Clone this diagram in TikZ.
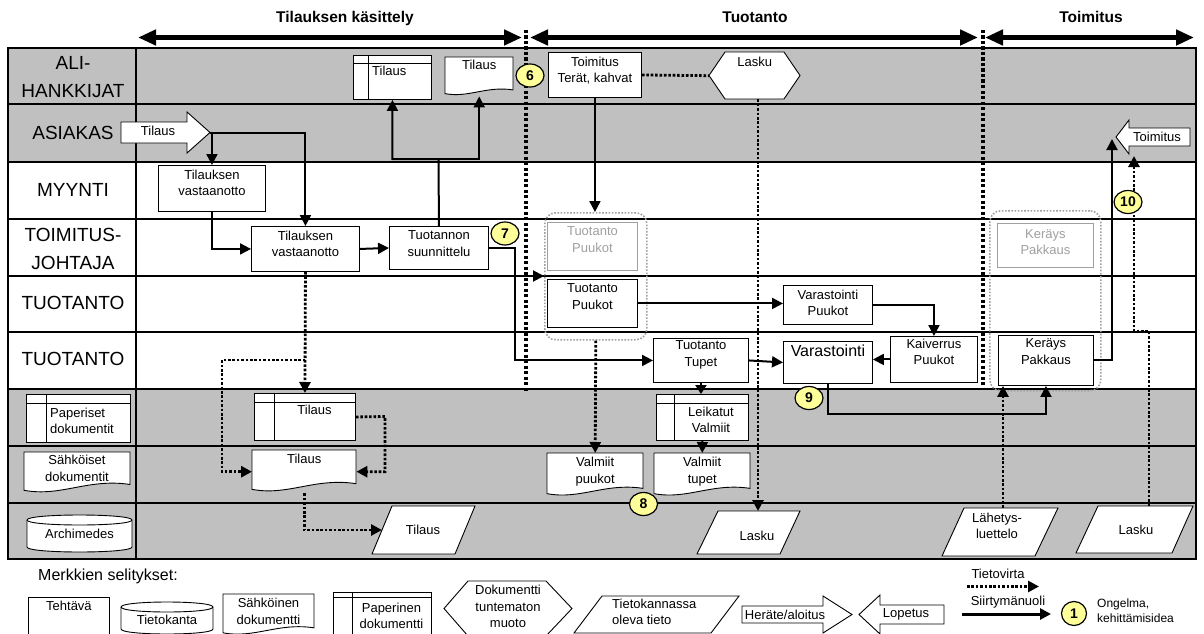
\documentclass[tikz,border=0pt]{standalone}
\usepackage{fontspec}
\setmainfont{Liberation Sans}
\usetikzlibrary{arrows.meta,calc,shapes.geometric}

\definecolor{lanegrey}{HTML}{C0C0C0}
\definecolor{ghostgrey}{HTML}{A0A0A0}
\definecolor{noteyellow}{HTML}{FFFF99}

\tikzset{
  txt/.style={font=\fontsize{13}{16.5}\selectfont, align=center, inner sep=0},
  txtl/.style={font=\fontsize{13}{16.5}\selectfont, align=left, inner sep=0},
  lanelabel/.style={font=\fontsize{19}{28}\selectfont, align=center, inner sep=0},
  phasetitle/.style={font=\bfseries\fontsize{15.5}{18}\selectfont, inner sep=0, anchor=base},
  taskbox/.style={draw, fill=white, line width=0.9pt, inner sep=0, anchor=north west},
  ghostbox/.style={draw=ghostgrey, fill=white, line width=0.9pt, inner sep=0, anchor=north west},
  frame/.style={inner sep=0, anchor=north west},
  shapeline/.style={draw, fill=white, line width=0.9pt, line join=miter},
  flow/.style={line width=2pt, -{Triangle[length=11pt,width=11pt]}},
  shortflow/.style={line width=2pt, -{Triangle[length=9pt,width=11pt]}},
  plainflow/.style={line width=2pt},
  info/.style={line width=2.8pt, dash pattern=on 2.6pt off 1.8pt, -{Triangle[length=11pt,width=11pt]}},
  plaininfo/.style={line width=2.8pt, dash pattern=on 2.6pt off 1.8pt},
  divider/.style={line width=4pt, dash pattern=on 3.3pt off 2.2pt},
  group/.style={draw=ghostgrey, line width=1.6pt, dash pattern=on 1.6pt off 1.6pt, rounded corners=11pt, inner sep=0, anchor=north west},
  phasearrow/.style={line width=4.5pt, {Triangle[length=18pt,width=15pt]}-{Triangle[length=18pt,width=15pt]}},
  note/.style={ellipse, draw, fill=noteyellow, line width=1.2pt, minimum width=28pt, minimum height=23pt, inner sep=0, font=\bfseries\fontsize{14}{14}\selectfont},
  laneline/.style={line width=1.8pt},
}

% task box: [text offset], name, x0, y0, x1, y1, text
\newcommand\mkTask[7][4.5]{%
  \node[taskbox, minimum width={#5-#3}, minimum height={#6-#4}] (#2) at (#3,#4) {};
  \node[txt, anchor=north] at ($(#2.north)+(0,#1)$) {#7};}
\newcommand\mkGhost[7][4.5]{%
  \node[ghostbox, minimum width={#5-#3}, minimum height={#6-#4}] (#2) at (#3,#4) {};
  \node[txt, anchor=north, text=ghostgrey] at ($(#2.north)+(0,#1)$) {#7};}
% paper document: name, x0, y0, x1, y1, header offset, margin offset
\newcommand\mkPaper[7]{%
  \node[taskbox, minimum width={#4-#2}, minimum height={#5-#3}] (#1) at (#2,#3) {};
  \draw[line width=0.9pt] (#2,{#3+#6}) -- (#4,{#3+#6}) ({#2+#7},#3) -- ({#2+#7},#5);}
% electronic document with wavy lower edge: name, x0, y0, x1, y1
\newcommand\mkEdoc[5]{%
  \pgfmathsetmacro\edw{#4-#2}%
  \draw[shapeline] (#2,#3) -- (#4,#3) -- (#4,{#5-0.09*\edw})
    .. controls ({#2+0.6*\edw},{#5-0.15*\edw}) and ({#2+0.35*\edw},{#5+0.03*\edw}) .. (#2,{#5-0.035*\edw}) -- cycle;
  \node[frame, minimum width=\edw, minimum height={#5-#3}] (#1) at (#2,#3) {};}
% database cylinder: name, x0, y0, x1, y1
\newcommand\mkCyl[5]{%
  \def\cry{5}%
  \draw[shapeline] (#2,{#3+\cry}) -- (#2,{#5-\cry})
    .. controls (#2,{#5+0.333*\cry}) and (#4,{#5+0.333*\cry}) .. (#4,{#5-\cry})
    -- (#4,{#3+\cry}) .. controls (#4,{#3-0.333*\cry}) and (#2,{#3-0.333*\cry}) .. (#2,{#3+\cry}) -- cycle;
  \draw[line width=0.9pt] (#2,{#3+\cry}) .. controls (#2,{#3+2.333*\cry}) and (#4,{#3+2.333*\cry}) .. (#4,{#3+\cry});
  \node[frame, minimum width={#4-#2}, minimum height={#5-#3}] (#1) at (#2,#3) {};}
% data parallelogram: name, top y, bottom y, top left x, top right x, bottom left x, bottom right x
\newcommand\mkData[7]{%
  \draw[shapeline] (#4,#2) -- (#5,#2) -- (#7,#3) -- (#6,#3) -- cycle;
  \node[frame, anchor=center, minimum width={#5-#6}, minimum height={#3-#2}] (#1) at ({(#4+#5+#6+#7)/4},{(#2+#3)/2}) {};}
% hexagon: name, left x, top-left x, top-right x, right x, top y, bottom y
\newcommand\mkHex[7]{%
  \draw[shapeline] (#2,{(#6+#7)/2}) -- (#3,#6) -- (#4,#6) -- (#5,{(#6+#7)/2}) -- (#4,#7) -- (#3,#7) -- cycle;
  \node[frame, minimum width={#5-#2}, minimum height={#7-#6}] (#1) at (#2,#6) {};}

\begin{document}
\begin{tikzpicture}[x=1pt,y=-1pt]
\useasboundingbox (0,0) rectangle (1204,634);

% ---------- swimlane grid ----------
\fill[lanegrey] (8,48) rectangle (1196,162);
\fill[lanegrey] (8,389) rectangle (1196,559);
\foreach \yy in {104,162,219,276,332,389,446,503}
  \draw[laneline] (8,\yy) -- (1196,\yy);
\draw[laneline] (136,48) -- (136,559);
\draw[line width=2.4pt] (8,48) rectangle (1196,559);

% ---------- lane titles ----------
\node[lanelabel] (lnAli) at (73,77.5) {ALI-\\HANKKIJAT};
\node[lanelabel] (lnAsi) at (73,133) {ASIAKAS};
\node[lanelabel] (lnMyy) at (73,190) {MYYNTI};
\node[lanelabel] (lnToi) at (73,249) {TOIMITUS-\\JOHTAJA};
\node[lanelabel] (lnTuo1) at (73,303) {TUOTANTO};
\node[lanelabel] (lnTuo2) at (73,359) {TUOTANTO};

\mkPaper{lnPaper}{26}{394}{130}{442}{9}{20}
\node[txtl, anchor=north west] at (50,407.5) {Paperiset\\dokumentit};
\mkEdoc{lnSahko}{24}{452}{130}{494}
\node[txt, anchor=north] at (77,455) {Sähköiset\\dokumentit};
\mkCyl{lnArch}{27}{515}{132}{552}
\node[txt] at (79.5,534) {Archimedes};

% ---------- phases ----------
\node[phasetitle] (phA) at (345,23) {Tilauksen käsittely};
\node[phasetitle] (phB) at (755,23) {Tuotanto};
\node[phasetitle] (phC) at (1091,23) {Toimitus};
\coordinate (phA-l) at (138,37.5);
\coordinate (phA-r) at (522,37.5);
\coordinate (phB-l) at (530,37.5);
\coordinate (phB-r) at (978,37.5);
\coordinate (phC-l) at (985,37.5);
\coordinate (phC-r) at (1194,37.5);
\draw[phasearrow] (phA-l) -- (phA-r);
\draw[phasearrow] (phB-l) -- (phB-r);
\draw[phasearrow] (phC-l) -- (phC-r);

% ---------- dotted activity groups ----------
\node[group, minimum width=102, minimum height=127] (grp1) at (544,212) {};
\node[group, minimum width=111, minimum height=180] (grp2) at (989,210) {};

% ---------- ALI-HANKKIJAT ----------
\mkPaper{p1}{353}{55}{431}{99}{8}{15}
\node[txt, anchor=west] at (372,71) {Tilaus};
\mkEdoc{e1}{445}{57}{513}{96}
\node[txt, anchor=north] at ($(e1.north)+(0,2.5)$) {Tilaus};
\mkTask{toimT}{548}{52}{641}{97}{Toimitus\\Terät, kahvat}
\mkHex{laskuH}{709}{725}{784}{800}{52}{99}
\node[txt, anchor=north] at ($(laskuH.north)+(0,5)$) {Lasku};

% ---------- ASIAKAS ----------
\draw[shapeline] (121,122) -- (187,122) -- (187,112) -- (210,132.5) -- (187,153) -- (187,143) -- (121,143) -- cycle;
\node[txt] (startT) at (158,131) {Tilaus};
\coordinate (startT-tip) at (210,132.5);
\draw[shapeline] (1116,137) -- (1129,120) -- (1129,128) -- (1190,128) -- (1190,146) -- (1129,146) -- (1129,154) -- cycle;
\node[txt] (toimE) at (1157,137) {Toimitus};
\coordinate (toimE-a) at (1112,139);
\coordinate (toimE-s) at (1134,156);

% ---------- MYYNTI / TOIMITUSJOHTAJA ----------
\mkTask{tv1}{158}{165}{265}{211}{Tilauksen\\vastaanotto}
\mkTask{tv2}{251}{226}{359}{271}{Tilauksen\\vastaanotto}
\mkTask{tsu}{389}{226}{488}{269}{Tuotannon\\suunnittelu}
\mkGhost{gpuuk}{547}{222}{637}{270}{Tuotanto\\Puukot}
\mkGhost[6]{gker}{997}{223}{1093}{267}{Keräys\\Pakkaus}

% ---------- TUOTANTO ----------
\mkTask{puuk}{547}{279}{637}{327}{Tuotanto\\Puukot}
\mkTask{vpuuk}{783}{285}{872}{324}{Varastointi\\Puukot}
\mkTask[2.5]{tupet}{653}{338}{748}{382}{Tuotanto\\Tupet}
\node[taskbox, minimum width=89, minimum height=42] (var) at (783,341) {};
\node[inner sep=0, anchor=north, font=\fontsize{16}{19}\selectfont] at ($(var.north)+(0,4)$) {Varastointi};
\mkTask[2.5]{kaiv}{890}{336}{977}{382}{Kaiverrus\\Puukot}
\mkTask[3.5]{ker}{998}{335}{1093}{385}{Keräys\\Pakkaus}

% ---------- documents ----------
\mkPaper{ptil7}{254}{393}{355}{440}{9}{20}
\node[txt] at (314.5,410) {Tilaus};
\mkPaper{lval}{656}{394}{748}{440}{9}{18}
\node[txt] at (711,420) {Leikatut\\Valmiit};
\mkEdoc{e8}{252}{450}{356}{493}
\node[txt, anchor=north] at ($(e8.north)+(0,3.5)$) {Tilaus};
\mkEdoc{vpuu}{547}{453}{643}{497}
\node[txt, anchor=north] at ($(vpuu.north)+(0,4)$) {Valmiit\\puukot};
\mkEdoc{vtup}{654}{453}{750}{497}
\node[txt, anchor=north] at ($(vtup.north)+(0,4)$) {Valmiit\\tupet};

% ---------- Archimedes records ----------
\mkData{tilA}{506}{554}{392}{475}{372}{455}
\node[txt] at (423,530) {Tilaus};
\coordinate (tilA-w) at (382,530);
\mkData{laskuA}{511}{554}{718}{800}{697}{780}
\node[txt] at (757,536) {Lasku};
\coordinate (laskuA-n) at (758,511);
\mkData{lahA}{508}{556}{964}{1058}{942}{1035}
\node[txt] at (997,526) {Lähetys-\\luettelo};
\coordinate (lahA-n) at (1003,508);
\mkData{laskuB}{506}{553}{1098}{1193}{1076}{1172}
\node[txt] at (1136,530) {Lasku};
\coordinate (laskuB-n) at (1149,506);

% ---------- task flow ----------
\coordinate (j1) at (438.5,159);
\coordinate (j2) at (515,276);
\draw[flow] (startT-tip) -| (tv2.north);
\draw[flow] (startT-tip) -| (tv1.north);
\draw[flow] (tv1.south) |- (tv2.west);
\draw[flow] (tv2.east) -- (tsu.west);
\draw[flow] (tsu.north) -- (j1) -| (p1.south);
\draw[flow] (j1) -| (e1.south);
\draw[flow] (tsu.east) -| (j2) |- (tupet.west);
\draw[flow] (j2) -- (j2 -| grp1.west);
\draw[flow] (toimT.south) -- (toimT.south |- grp1.north);
\draw[flow] (puuk.east) -- (puuk.east -| vpuuk.west);
\draw[flow] (tupet.east) -- (var.west);
\draw[shortflow] (tupet.south) -- (tupet.south |- lval.north);
\draw[flow] (vpuuk.east) -| (kaiv.north);
\draw[flow] (kaiv.west) -- (kaiv.west -| var.east);
\draw[flow] (var.south) -- ++(0,30) -| (ker.south);
\draw[flow] (ker.east) -| (toimE-a);
\draw[flow] (lval.south) -- (vtup.north);

% ---------- information flow ----------
\coordinate (b1) at (222,360);
\coordinate (b2) at (385,416.5);
\coordinate (b4) at (1149,331);
\draw[plaininfo] (toimT.east) -- (laskuH.west);
\draw[info] (tv2.south) -- (ptil7.north);
\draw[info] (tv2.south |- b1) -- (b1) |- (e8.west);
\draw[info] (ptil7.east) -- (b2) |- (e8.east);
\draw[info] (e8.south) |- (tilA-w);
\draw[info] (grp1.south) -- (vpuu.north);
\draw[info] (laskuH.south -| laskuA-n) -- (laskuA-n);
\draw[info] (lahA-n) -- (lahA-n |- ker.south);
\draw[info] (laskuB-n) -- (b4) -| (toimE-s);

% ---------- phase borders ----------
\draw[divider] (526,30) -- (526,391);
\draw[divider] (983,30) -- (983,389);

% ---------- improvement notes ----------
\node[note] (n6) at (530,75.5) {6};
\node[note] (n7) at (505,233.5) {7};
\node[note] (n8) at (643.5,504) {8};
\node[note] (n9) at (809,398) {9};
\node[note] (n10) at (1128,202) {10};

% ---------- legend ----------
\node[inner sep=0, anchor=base west, font=\fontsize{16}{19}\selectfont] at (38,580) {Merkkien selitykset:};
\mkTask[3.5]{lgTask}{28}{597}{109}{634}{Tehtävä}
\mkCyl{lgDb}{121}{602}{213}{634}
\node[txt] at (167,620) {Tietokanta};
\mkEdoc{lgEdoc}{223}{594}{314}{636}
\node[txt, anchor=north] at (268.5,598) {Sähköinen\\dokumentti};
\mkPaper{lgPaper}{333}{592}{431}{636}{5}{19}
\node[txt] at (391.5,616) {Paperinen\\dokumentti};
\mkHex{lgHex}{444}{468}{546}{572}{581}{636}
\node[txt] at (508,606.5) {Dokumentti\\tuntematon\\muoto};
\mkData{lgData}{596}{633}{602}{739}{574}{711}
\node[txtl, anchor=north west] at (612,598.5) {Tietokannassa\\oleva tieto};
\draw[shapeline] (742,606) -- (823,606) -- (823,596) -- (852,614.5) -- (823,633) -- (823,623) -- (742,623) -- cycle;
\node[txt] (lgStart) at (785,614.5) {Heräte/aloitus};
\draw[shapeline] (859,614.5) -- (880,595) -- (880,605) -- (944,605) -- (944,624) -- (880,624) -- (880,634) -- cycle;
\node[txt] (lgEnd) at (906,614.5) {Lopetus};
\node[txt] (lgInfo) at (998,574) {Tietovirta};
\coordinate (lgInfo-a) at (967,586.5);
\coordinate (lgInfo-b) at (1039,586.5);
\draw[info] (lgInfo-a) -- (lgInfo-b);
\node[txt] (lgFlow) at (1008,602) {Siirtymänuoli};
\coordinate (lgFlow-a) at (962,614);
\coordinate (lgFlow-b) at (1051,614);
\draw[flow, line width=3pt] (lgFlow-a) -- (lgFlow-b);
\node[note, minimum width=25pt, minimum height=24pt] (lgNote) at (1074,613.5) {1};
\node[inner sep=0, anchor=west, align=left, font=\fontsize{12}{15}\selectfont] at (1097,610.5) {Ongelma,\\kehittämisidea};

\end{tikzpicture}
\end{document}
